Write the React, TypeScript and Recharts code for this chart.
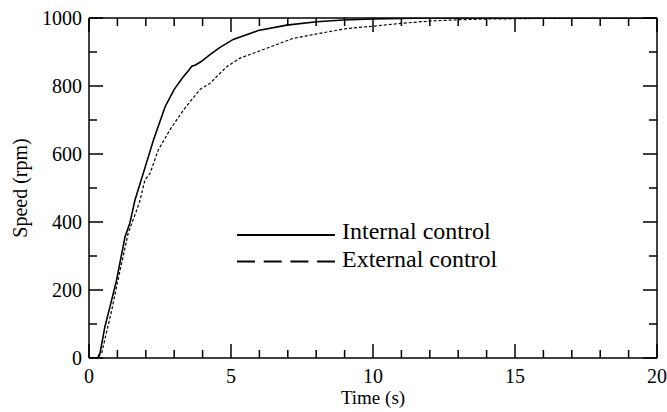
import React from 'react';
import { LineChart, Line, XAxis, YAxis, Legend } from 'recharts';

const internalTime = [0, 0.3, 0.39, 0.56, 0.74, 0.97, 1.27, 1.44, 1.62, 1.91, 2.27, 2.68, 3.0, 3.3, 3.5, 3.62, 3.75, 3.95, 4.26, 4.6, 5.08, 5.96, 6.96, 8.02, 8.95, 10.0, 11, 12, 20];
const internalSpeed = [0, 0, 15, 92, 151, 229, 357, 397, 465, 543, 641, 739, 790, 825, 845, 858, 862, 872, 892, 913, 937, 963, 979, 989, 994, 997, 999, 1000, 1000];

const externalTime = [0, 0.3, 0.45, 0.6, 0.8, 1.0, 1.38, 1.68, 1.8, 1.97, 2.15, 2.44, 2.85, 3.32, 3.91, 4.26, 4.55, 4.85, 5.32, 6.26, 7.19, 8.13, 9.07, 10.0, 10.95, 12, 13.06, 14.1, 16.1, 17, 20];
const externalSpeed = [0, 0, 15, 70, 140, 222, 367, 435, 465, 524, 543, 612, 671, 729, 790, 808, 832, 857, 882, 911, 940, 955, 969, 976, 984, 991, 995, 997, 999, 1000, 1000];

const xTicks = [0, 1, 2, 3, 4, 5, 6, 7, 8, 9, 10, 11, 12, 13, 14, 15, 16, 17, 18, 19, 20];
const yTicks = [0, 100, 200, 300, 400, 500, 600, 700, 800, 900, 1000];
const xMajor = [0, 5, 10, 15, 20];
const yMajor = [0, 200, 400, 600, 800, 1000];

const legendNames = ['Internal control', 'External control'];

const internalData = internalTime.map((t, i) => ({ t, v: internalSpeed[i] }));
const externalData = externalTime.map((t, i) => ({ t, v: externalSpeed[i] }));

const FONT = "'Liberation Serif', 'Times New Roman', Times, 'DejaVu Serif', serif";
const MAJ = 14;
const MIN = 8;

const BottomTick = (props: any) => {
  const { x, y, payload } = props;
  const major = xMajor.includes(payload.value);
  return (
    <g>
      <line x1={x} y1={y} x2={x} y2={y - (major ? MAJ : MIN)} stroke="#000" strokeWidth={1.5} />
      {major && (
        <text x={x} y={y + 25} textAnchor="middle" style={{ fontFamily: FONT, fontSize: 20 }} fill="#000">
          {payload.value}
        </text>
      )}
    </g>
  );
};

const TopTick = (props: any) => {
  const { x, y, payload } = props;
  const major = xMajor.includes(payload.value);
  return <line x1={x} y1={y} x2={x} y2={y + (major ? MAJ : MIN)} stroke="#000" strokeWidth={1.5} />;
};

const LeftTick = (props: any) => {
  const { x, y, payload } = props;
  const major = yMajor.includes(payload.value);
  return (
    <g>
      <line x1={x} y1={y} x2={x + (major ? MAJ : MIN)} y2={y} stroke="#000" strokeWidth={1.5} />
      {major && (
        <text x={x - 7} y={y} dy="0.35em" textAnchor="end" style={{ fontFamily: FONT, fontSize: 20 }} fill="#000">
          {payload.value}
        </text>
      )}
    </g>
  );
};

const RightTick = (props: any) => {
  const { x, y, payload } = props;
  const major = yMajor.includes(payload.value);
  return <line x1={x} y1={y} x2={x - (major ? MAJ : MIN)} y2={y} stroke="#000" strokeWidth={1.5} />;
};

const LegendContent = () => (
  <div style={{ fontFamily: FONT, fontSize: 24, color: '#000' }}>
    {legendNames.map((name, i) => (
      <div key={name} style={{ display: 'flex', alignItems: 'flex-start', height: 28, lineHeight: '27px', whiteSpace: 'nowrap' }}>
        <svg width={98} height={28} style={{ display: 'block' }}>
          <line
            x1={0}
            y1={i === 0 ? 17 : 15.5}
            x2={98}
            y2={i === 0 ? 17 : 15.5}
            stroke="#000"
            strokeWidth={2}
            strokeDasharray={i === 0 ? undefined : '18 8.7'}
          />
        </svg>
        <span style={{ marginLeft: 7 }}>{name}</span>
      </div>
    ))}
  </div>
);

const axisLine = { stroke: '#000', strokeWidth: 1.5 };

export default function App() {
  return (
    <div style={{ position: 'absolute', left: 0, top: 0, background: '#fff', fontFamily: FONT }}>
      <LineChart width={667} height={412} margin={{ top: 18, right: 10, bottom: 0, left: 0 }} style={{ fontFamily: FONT }}>
        <XAxis
          xAxisId="b"
          dataKey="t"
          type="number"
          domain={[0, 20]}
          allowDataOverflow
          ticks={xTicks}
          interval={0}
          tickSize={0}
          tickMargin={0}
          tickLine={false}
          tick={<BottomTick />}
          axisLine={axisLine}
          height={54}
          label={{ value: 'Time (s)', position: 'insideBottom', offset: 8, style: { fontFamily: FONT, fontSize: 19 }, fill: '#000' }}
        />
        <XAxis
          xAxisId="top"
          orientation="top"
          mirror
          dataKey="t"
          type="number"
          domain={[0, 20]}
          allowDataOverflow
          ticks={xTicks}
          interval={0}
          tickSize={0}
          tickMargin={0}
          tickLine={false}
          tick={<TopTick />}
          axisLine={axisLine}
        />
        <YAxis
          yAxisId="l"
          type="number"
          domain={[0, 1000]}
          allowDataOverflow
          ticks={yTicks}
          interval={0}
          tickSize={0}
          tickMargin={0}
          tickLine={false}
          tick={<LeftTick />}
          axisLine={axisLine}
          width={89}
          label={{
            value: 'Speed (rpm)',
            angle: -90,
            position: 'insideLeft',
            offset: 20,
            fill: '#000',
            style: { textAnchor: 'middle', fontFamily: FONT, fontSize: 20 },
          }}
        />
        <YAxis
          yAxisId="r"
          orientation="right"
          mirror
          type="number"
          domain={[0, 1000]}
          allowDataOverflow
          ticks={yTicks}
          interval={0}
          tickSize={0}
          tickMargin={0}
          tickLine={false}
          tick={<RightTick />}
          axisLine={axisLine}
        />
        <Legend
          layout="vertical"
          verticalAlign="middle"
          align="center"
          content={<LegendContent />}
          wrapperStyle={{ left: 237, top: 218, width: 'auto' }}
        />
        <Line
          xAxisId="b"
          yAxisId="l"
          data={internalData}
          dataKey="v"
          type="linear"
          stroke="#000"
          strokeWidth={1.6}
          dot={false}
          activeDot={false}
          isAnimationActive={false}
        />
        <Line
          xAxisId="b"
          yAxisId="l"
          data={externalData}
          dataKey="v"
          type="linear"
          stroke="#000"
          strokeWidth={1.2}
          strokeDasharray="3 2"
          dot={false}
          activeDot={false}
          isAnimationActive={false}
        />
      </LineChart>
    </div>
  );
}
